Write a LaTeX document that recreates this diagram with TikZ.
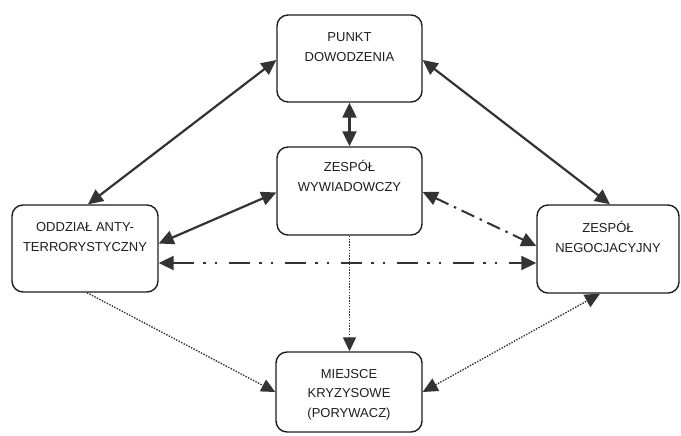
\documentclass[tikz,border=0pt]{standalone}
\usepackage{fontspec}
\setmainfont{Liberation Sans}
\usetikzlibrary{arrows.meta}
\definecolor{ink}{HTML}{1E1E1E}
\definecolor{linec}{HTML}{333333}
\begin{document}
\begin{tikzpicture}[x=1pt,y=-1pt,
  box/.style={draw=ink, line width=1.4pt, rounded corners=11pt, inner sep=0pt, rectangle},
  lbl/.style={font=\fontsize{13}{19.5}\selectfont, align=center, inner sep=0pt, anchor=base, text=ink},
  dbl/.style={{Triangle[length=15pt,width=14pt]}-{Triangle[length=15pt,width=14pt]}},
  sgl/.style={-{Triangle[length=14pt,width=13pt]}},
  solidln/.style={draw=linec, line width=2.2pt},
  dashdotln/.style={draw=linec, line width=2pt, dash pattern=on 14pt off 6pt on 2.5pt off 6pt},
  dashdotdotln/.style={draw=linec, line width=2pt, dash pattern=on 21pt off 9pt on 2.5pt off 9pt on 2.5pt off 12pt},
  dotln/.style={draw=linec, line width=1.4pt, dash pattern=on 1.4pt off 1.4pt}
]
\useasboundingbox (0,0) rectangle (681,436);
\fill[white] (0,0) rectangle (681,436);

% boxes
\node[box, minimum width=145pt, minimum height=87pt] (PD) at (349.5,58.5) {};
\node[box, minimum width=145pt, minimum height=88pt] (WY) at (349.5,191) {};
\node[box, minimum width=146pt, minimum height=87pt] (OD) at (85,248.5) {};
\node[box, minimum width=142pt, minimum height=88pt] (NE) at (608,249) {};
\node[box, minimum width=146pt, minimum height=80pt] (MK) at (349,392) {};

% texts (anchor base = baseline of the last line)
\node[lbl] (tPD) at ([yshift=-47pt]PD.north) {PUNKT\\DOWODZENIA};
\node[lbl] (tWY) at ([yshift=-45pt]WY.north) {ZESPÓŁ\\WYWIADOWCZY};
\node[lbl] (tOD) at ([yshift=-47pt]OD.north) {ODDZIAŁ ANTY-\\TERRORYSTYCZNY};
\node[lbl] (tNE) at ([yshift=-48pt]NE.north) {ZESPÓŁ\\NEGOCJACYJNY};
\node[lbl] (tMK) at ([yshift=-66pt]MK.north) {MIEJSCE\\KRYZYSOWE\\(PORYWACZ)};

% connectors
\draw[solidln, dbl] ([yshift=-1.5pt]PD.west) -- ([xshift=3pt]OD.north);
\draw[solidln, dbl] ([yshift=-1.5pt]PD.east) -- ([xshift=2pt]NE.north);
\draw[solidln, dbl] (PD.south) -- (WY.north);
\draw[solidln, dbl] ([yshift=-1.5pt]WY.west) -- ([yshift=5pt]OD.east);
\draw[dashdotln, dbl] ([yshift=-1pt]WY.east) -- ([yshift=3pt]NE.west);
\draw[dashdotdotln, dbl] ([yshift=-14.5pt]OD.east) -- ([yshift=-14.5pt]OD.east -| NE.west);
\draw[dotln, sgl] (WY.south) -- (WY.south |- MK.north);
\draw[dotln, sgl] ([xshift=2pt]OD.south) -- (MK.west);
\draw[dotln, dbl] (MK.east) -- ([xshift=-8pt]NE.south);
\end{tikzpicture}
\end{document}
